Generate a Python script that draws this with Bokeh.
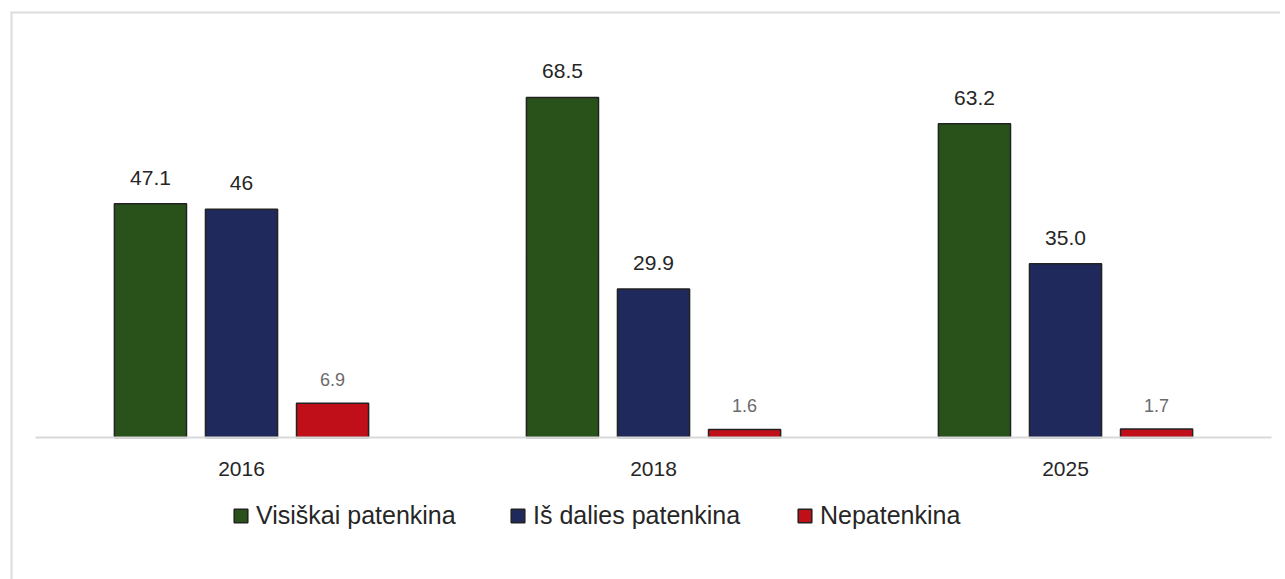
from bokeh.plotting import figure
from bokeh.models import (Range1d, ColumnDataSource, Legend, LegendItem,
                          Span, FixedTicker)
from bokeh.core.properties import value
from bokeh.embed import file_html
from bokeh.resources import INLINE

# ---- data ----
years = ["2016", "2018", "2025"]
series_names = ["Visiškai patenkina", "Iš dalies patenkina", "Nepatenkina"]
visiskai = [47.1, 68.5, 63.2]
is_dalies = [46.0, 29.9, 35.0]
nepatenkina = [6.9, 1.6, 1.7]
labels_visiskai = ["47.1", "68.5", "63.2"]
labels_is_dalies = ["46", "29.9", "35.0"]
labels_nepatenkina = ["6.9", "1.6", "1.7"]

# ---- styles ----
colors = ["#285219", "#1f295b", "#c00f19"]
offsets = [-0.221, 0.0, 0.221]
bar_width = 0.175
label_colors = ["#262626", "#262626", "#6b6b6b"]
label_sizes = ["21px", "21px", "18px"]
label_offsets = [-26, -26, -24]
legend_x = [222, 499, 786]
legend_y = 45
FONT = "Liberation Sans"

group_pos = [i + 0.5 for i in range(len(years))]

p = figure(x_range=Range1d(-0.0607, 3.0218),
           y_range=Range1d(-28.6, 85.82),
           width=1280, height=579,
           output_backend="svg", toolbar_location=None,
           min_border_left=10, min_border_right=0,
           min_border_top=11, min_border_bottom=0)

all_vals = [visiskai, is_dalies, nepatenkina]
all_lbls = [labels_visiskai, labels_is_dalies, labels_nepatenkina]

renderers = []
for i, name in enumerate(series_names):
    xs = [g + offsets[i] for g in group_pos]
    src = ColumnDataSource(dict(x=xs, v=all_vals[i], lbl=all_lbls[i]))
    r = p.vbar(x="x", top="v", bottom=0, width=bar_width, source=src,
               fill_color=colors[i], line_color="#222222", line_width=1.5)
    renderers.append(r)
    p.text(x="x", y="v", text="lbl", source=src,
           text_align="center", text_baseline="middle",
           y_offset=label_offsets[i], text_font=value(FONT),
           text_font_size=label_sizes[i], text_color=label_colors[i])

# baseline across the category area
p.segment(x0=[0], y0=[0], x1=[len(years)], y1=[0],
          line_color="#d9d9d9", line_width=2)

# axes
p.yaxis.visible = False
p.xgrid.grid_line_color = None
p.ygrid.grid_line_color = None
p.outline_line_color = None
xa = p.xaxis[0]
xa.fixed_location = 0
xa.ticker = FixedTicker(ticks=group_pos)
xa.major_label_overrides = {g: y for g, y in zip(group_pos, years)}
xa.major_tick_line_color = None
xa.minor_tick_line_color = None
xa.axis_line_color = None
xa.major_label_text_font = FONT
xa.major_label_text_font_size = "21px"
xa.major_label_text_color = "#262626"
xa.major_label_standoff = 18

# legends (one per series, placed below the bars)
for i, name in enumerate(series_names):
    lg = Legend(items=[LegendItem(label=name, renderers=[renderers[i]])],
                location=(legend_x[i], legend_y + 4), orientation="horizontal",
                glyph_width=17, glyph_height=17, label_standoff=7,
                label_text_font=FONT, label_text_font_size="25px",
                label_text_color="#262626", padding=0, margin=0,
                border_line_color=None, background_fill_alpha=0)
    p.add_layout(lg)

# chart border (top and left edges)
p.add_layout(Span(location=p.y_range.end, dimension="width",
                  line_color="#dcdcdc", line_width=4))
p.add_layout(Span(location=p.x_range.start, dimension="height",
                  line_color="#dcdcdc", line_width=4))

open("out.html", "w").write(file_html(p, INLINE))
